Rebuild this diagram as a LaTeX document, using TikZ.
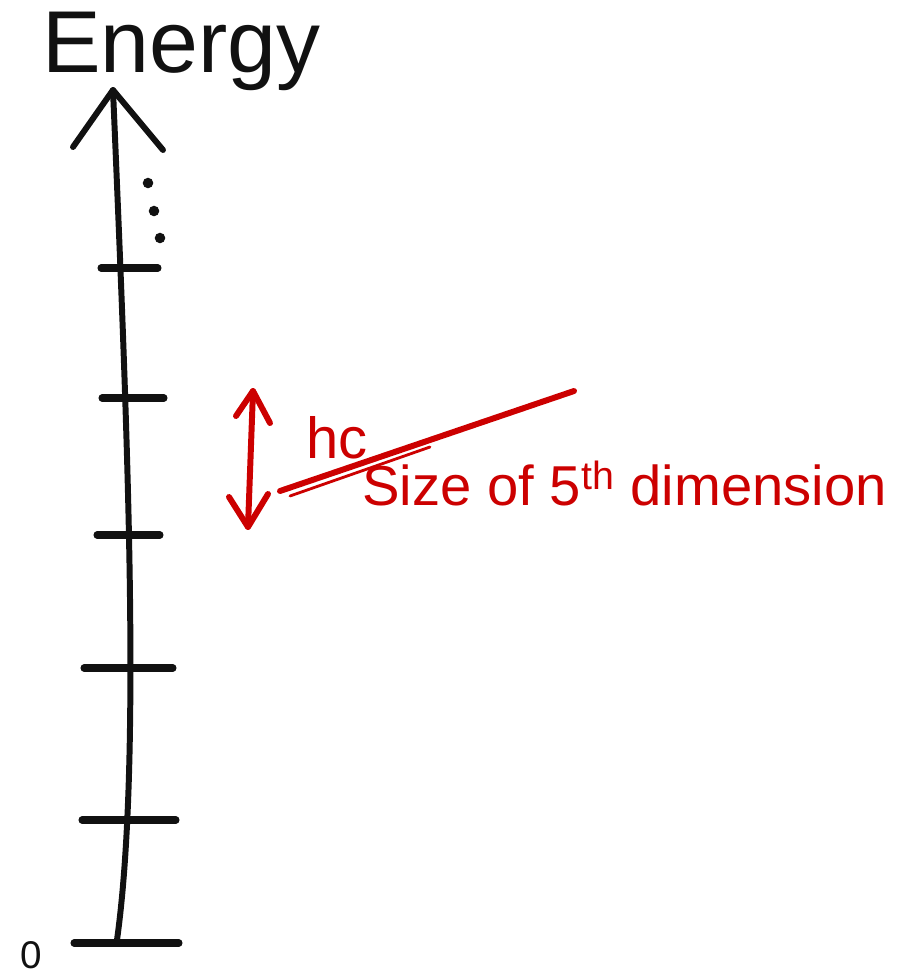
\documentclass[tikz,border=0pt]{standalone}
\usepackage{fontspec}
\setmainfont{Liberation Sans}
\usepackage{tikz}
\usetikzlibrary{positioning}
\usepackage{xcolor}
\definecolor{pen}{HTML}{111111}
\definecolor{redpen}{HTML}{CC0000}

\begin{document}
\begin{tikzpicture}[
    x=0.02cm, y=-0.02cm,
    axisline/.style={draw=pen, line width=3.4pt, line cap=round, line join=round},
    levelbar/.style={draw=pen, line width=4pt, line cap=round},
    redline/.style={draw=redpen, line width=3.4pt, line cap=round, line join=round},
    label/.style={inner sep=0pt, anchor=base west},
]
\useasboundingbox (0,0) rectangle (897,978);

% ── Energy axis ──
\coordinate (top) at (113,90);
\coordinate (bottom) at (117,940);
\draw[axisline] (bottom) .. controls (142,760) and (127,420) .. (top);
\draw[axisline] (73,147) -- (top) -- (163,150);
\node[label, font=\fontsize{50}{50}\selectfont, text=pen] (energy) at (42,72) {Energy};
\node[label, font=\fontsize{22}{22}\selectfont, text=pen] (zero) at (20,968) {0};

% ── Levels ──
\foreach \y/\xa/\xb in {268/101/158, 398/102/164, 535/97/160, 668/84/173, 820/82/176, 943/74/179}
    \draw[levelbar] (\xa,\y) -- (\xb,\y);

% ── Dots ──
\foreach \x/\y in {148/183, 154/211, 160/238}
    \fill[pen] (\x,\y) circle (3pt);

% ── Spacing ──
\coordinate (up) at (253,391);
\coordinate (down) at (248,527);
\draw[redline] (up) -- (down);
\draw[redline] (236,416) -- (up) -- (270,423);
\draw[redline] (229,497) -- (down) -- (268,494);

\node[label, font=\fontsize{33}{33}\selectfont, text=redpen] (hc) at (306,458) {hc};
\node[label, font=\fontsize{32}{32}\selectfont, text=redpen] (size) at (362,505) {Size of 5\textsuperscript{th} dimension};
\coordinate (barl) at (280,491);
\coordinate (barr) at (574,391);
\draw[redline] (barl) -- (barr);
\draw[redpen, line width=1.6pt, line cap=round] (290,496) -- (430,447);
\end{tikzpicture}
\end{document}
